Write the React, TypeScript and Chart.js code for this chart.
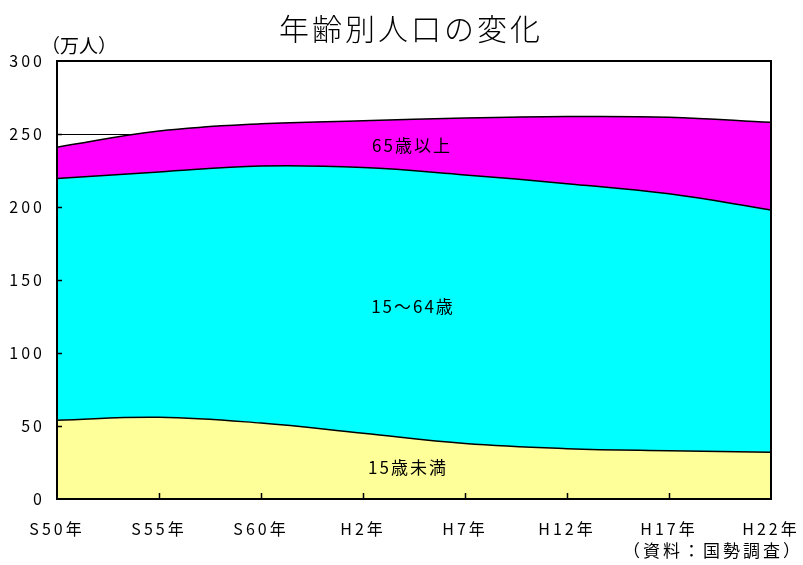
import React, { useEffect, useRef } from "react";
import { Chart, registerables } from "chart.js";

Chart.register(...registerables);

const categories = ["S50年", "S55年", "S60年", "H2年", "H7年", "H12年", "H17年", "H22年"];
const under15 = [54, 56, 52, 45, 38, 34.5, 33, 32];
const age15to64 = [165.5, 168, 176, 182, 184, 181.5, 176, 166];
const over65 = [21.5, 28, 29, 32, 39, 46, 52.5, 60];
const yTicks = [0, 50, 100, 150, 200, 250, 300];

const FONT = "'Noto Sans CJK JP', 'Noto Sans', sans-serif";

const decorPlugin = {
  id: "decor",
  beforeDraw(chart: any) {
    chart.ctx.letterSpacing = "3px";
  },
  afterDraw(chart: any) {
    const ctx = chart.ctx;
    const { left, right, top, bottom } = chart.chartArea;
    const xs = chart.scales.x;
    const ys = chart.scales.y;
    ctx.save();
    ctx.strokeStyle = "#000";
    ctx.lineWidth = 1.5;
    ctx.beginPath();
    yTicks.forEach((v) => {
      if (v === 0 || v === 300) return;
      const y = Math.round(ys.getPixelForValue(v)) + 0.5;
      ctx.moveTo(left, y);
      ctx.lineTo(left + 5, y);
    });
    categories.forEach((_, i) => {
      if (i === 0 || i === categories.length - 1) return;
      const x = Math.round(xs.getPixelForValue(i)) + 0.5;
      ctx.moveTo(x, bottom);
      ctx.lineTo(x, bottom - 6);
    });
    ctx.stroke();
    ctx.lineWidth = 2;
    ctx.strokeRect(left, top, right - left, bottom - top);

    ctx.fillStyle = "#000";
    ctx.textAlign = "center";
    ctx.textBaseline = "middle";
    ctx.letterSpacing = "3px";
    ctx.font = `300 30px ${FONT}`;
    ctx.fillText("年齢別人口の変化", 411, 29);
    ctx.letterSpacing = "0px";
    ctx.font = `19px ${FONT}`;
    ctx.fillText("（万人）", 79, 46);
    ctx.letterSpacing = "3px";
    ctx.font = `17px ${FONT}`;
    ctx.textAlign = "right";
    ctx.fillText("（資料：国勢調査）", 803, 551);
    ctx.textAlign = "center";
    ctx.letterSpacing = "2px";
    ctx.font = `17px ${FONT}`;
    ctx.fillText("65歳以上", 412, 146);
    ctx.fillText("15〜64歳", 413, 307);
    ctx.fillText("15歳未満", 408, 468);
    ctx.restore();
  },
};

export default function App() {
  const ref = useRef<HTMLCanvasElement | null>(null);

  useEffect(() => {
    if (!ref.current) return;
    const chart = new Chart(ref.current, {
      type: "line",
      data: {
        labels: categories,
        datasets: [
          {
            label: "15歳未満",
            data: under15,
            backgroundColor: "#FFFF99",
            borderColor: "#000",
            borderWidth: 1.5,
            fill: "origin",
            tension: 0.4,
            pointRadius: 0,
          },
          {
            label: "15〜64歳",
            data: age15to64,
            backgroundColor: "#00FFFF",
            borderColor: "#000",
            borderWidth: 1.5,
            fill: "-1",
            tension: 0.4,
            pointRadius: 0,
          },
          {
            label: "65歳以上",
            data: over65,
            backgroundColor: "#FF00FF",
            borderColor: "#000",
            borderWidth: 1.5,
            fill: "-1",
            tension: 0.4,
            pointRadius: 0,
          },
        ],
      },
      options: {
        animation: false,
        responsive: false,
        events: [],
        layout: { padding: { top: 61, right: 32, left: 0, bottom: 0 } },
        plugins: {
          legend: { display: false },
          tooltip: { enabled: false },
          title: { display: false },
        },
        scales: {
          x: {
            type: "category",
            offset: false,
            grid: { display: false, drawTicks: false },
            border: { display: false },
            ticks: {
              autoSkip: false,
              maxRotation: 0,
              minRotation: 0,
              padding: 20,
              color: "#000",
              font: { family: FONT, size: 16 },
            },
            afterFit: (s: any) => {
              s.height = 66;
              s.paddingLeft = 0;
              s.paddingRight = 0;
            },
          },
          y: {
            stacked: true,
            min: 0,
            max: 300,
            grid: { color: "#000", lineWidth: 1, drawTicks: false },
            border: { display: false },
            ticks: {
              stepSize: 50,
              padding: 12,
              color: "#000",
              font: { family: FONT, size: 16 },
            },
            afterFit: (s: any) => {
              s.width = 57;
              s.paddingTop = 0;
              s.paddingBottom = 0;
            },
          },
        },
      },
      plugins: [decorPlugin],
    });
    return () => chart.destroy();
  }, []);

  return (
    <div style={{ position: "absolute", left: 0, top: 0, width: 803, height: 565, background: "#fff" }}>
      <canvas ref={ref} width={803} height={565} style={{ width: 803, height: 565 }} />
    </div>
  );
}
